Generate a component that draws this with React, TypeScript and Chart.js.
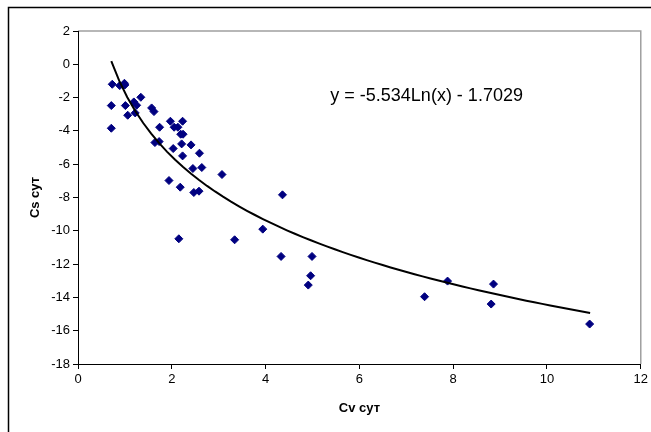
import React, { useEffect, useRef } from "react";
import { Chart, registerables } from "chart.js";

Chart.register(...registerables);

const cvValues = [
  0.73, 0.89, 0.99, 1.0, 0.71, 1.01, 1.19, 1.25, 1.34, 1.06, 1.22, 1.57, 1.62, 0.71, 1.74, 1.97,
  2.05, 2.13, 2.23, 2.19, 2.24, 1.64, 1.73, 2.03, 2.21, 2.41, 2.23, 2.59, 2.45, 2.64, 3.07, 1.94,
  2.18, 2.47, 2.58, 4.36, 2.15, 3.34, 3.94, 4.33, 4.99, 4.96, 4.91, 7.39, 7.88, 8.86, 8.81, 10.91,
];
const csValues = [
  -1.2, -1.28, -1.14, -1.24, -2.48, -2.48, -2.26, -2.46, -1.98, -3.06, -2.92, -2.62, -2.84, -3.84,
  -3.78, -3.42, -3.78, -3.78, -3.42, -4.2, -4.2, -4.7, -4.64, -5.06, -4.78, -4.84, -5.5, -5.34,
  -6.26, -6.2, -6.62, -6.98, -7.38, -7.7, -7.62, -7.84, -10.48, -10.54, -9.9, -11.54, -11.54,
  -12.7, -13.26, -13.96, -13.02, -13.2, -14.4, -15.6,
];

// Trendline as printed on the chart: y = -5.534 Ln(x) - 1.7029
const trendA = -5.534;
const trendB = -1.7029;
const trendStart = 0.71;
const trendEnd = 10.92;
const trendLabel = "y = -5.534Ln(x) - 1.7029";
const trendLabelPos = { x: 5.38, y: -1.9 };

const xTitle = "Cv сут";
const yTitle = "Cs сут";

const FONT = "Arial, 'Liberation Sans', sans-serif";

export default function App() {
  const ref = useRef<HTMLCanvasElement | null>(null);

  useEffect(() => {
    if (!ref.current) return;
    const points = cvValues.map((x, i) => ({ x, y: csValues[i] }));
    const trend: { x: number; y: number }[] = [];
    const n = 60;
    for (let i = 0; i <= n; i++) {
      const x = trendStart + ((trendEnd - trendStart) * i) / n;
      trend.push({ x, y: trendA * Math.log(x) + trendB });
    }

    const decor = {
      id: "decor",
      beforeDraw(chart: any) {
        const { ctx, chartArea } = chart;
        ctx.save();
        ctx.fillStyle = "#ffffff";
        ctx.fillRect(0, 0, chart.width, chart.height);
        ctx.strokeStyle = "#000000";
        ctx.lineWidth = 1.5;
        ctx.strokeRect(8.5, 7.5, 800, 800);
        ctx.strokeStyle = "#a0a0a0";
        ctx.lineWidth = 1.5;
        ctx.beginPath();
        ctx.moveTo(chartArea.left, chartArea.top);
        ctx.lineTo(chartArea.right, chartArea.top);
        ctx.lineTo(chartArea.right, chartArea.bottom);
        ctx.stroke();
        ctx.restore();
      },
      afterDraw(chart: any) {
        const { ctx, scales } = chart;
        ctx.save();
        ctx.font = `18px ${FONT}`;
        ctx.fillStyle = "#000000";
        ctx.textAlign = "left";
        ctx.textBaseline = "middle";
        ctx.fillText(
          trendLabel,
          scales.x.getPixelForValue(trendLabelPos.x),
          scales.y.getPixelForValue(trendLabelPos.y)
        );
        ctx.restore();
      },
    };

    const chart = new Chart(ref.current, {
      type: "scatter",
      data: {
        datasets: [
          {
            label: "data",
            data: points,
            pointStyle: "rectRot",
            pointRadius: 4,
            pointBorderWidth: 1,
            backgroundColor: "#000080",
            borderColor: "#000080",
            showLine: false,
            order: 2,
          },
          {
            label: "trend",
            data: trend,
            showLine: true,
            borderColor: "#000000",
            borderWidth: 2,
            pointRadius: 0,
            fill: false,
            tension: 0,
            order: 1,
          },
        ],
      },
      options: {
        animation: false,
        responsive: false,
        maintainAspectRatio: false,
        layout: { padding: { left: 0, top: 31, right: 9, bottom: 0 } },
        plugins: {
          legend: { display: false },
          tooltip: { enabled: false },
        },
        scales: {
          x: {
            type: "linear",
            min: 0,
            max: 12,
            afterFit: (s: any) => {
              s.height = 68;
            },
            ticks: {
              stepSize: 2,
              color: "#000000",
              font: { family: FONT, size: 13 },
              padding: 3,
              maxRotation: 0,
            },
            grid: {
              drawOnChartArea: false,
              drawTicks: true,
              tickLength: 5,
              color: "#000000",
            },
            border: { color: "#000000", width: 1 },
            title: {
              display: true,
              text: xTitle,
              color: "#000000",
              font: { family: FONT, size: 13, weight: "bold" },
              padding: { top: 0, bottom: 16 },
            },
          },
          y: {
            type: "linear",
            min: -18,
            max: 2,
            afterFit: (s: any) => {
              s.width = 78;
            },
            ticks: {
              stepSize: 2,
              color: "#000000",
              font: { family: FONT, size: 13 },
              padding: 3,
            },
            grid: {
              drawOnChartArea: false,
              drawTicks: true,
              tickLength: 5,
              color: "#000000",
            },
            border: { color: "#000000", width: 1 },
            title: {
              display: true,
              text: yTitle,
              color: "#000000",
              font: { family: FONT, size: 13, weight: "bold" },
              padding: { top: 28, bottom: 0 },
            },
          },
        },
      },
      plugins: [decor],
    });
    return () => chart.destroy();
  }, []);

  return (
    <div style={{ position: "fixed", left: 0, top: 0, width: 651, height: 432, background: "#fff" }}>
      <canvas ref={ref} width={651} height={432} style={{ width: 651, height: 432, display: "block" }} />
    </div>
  );
}
